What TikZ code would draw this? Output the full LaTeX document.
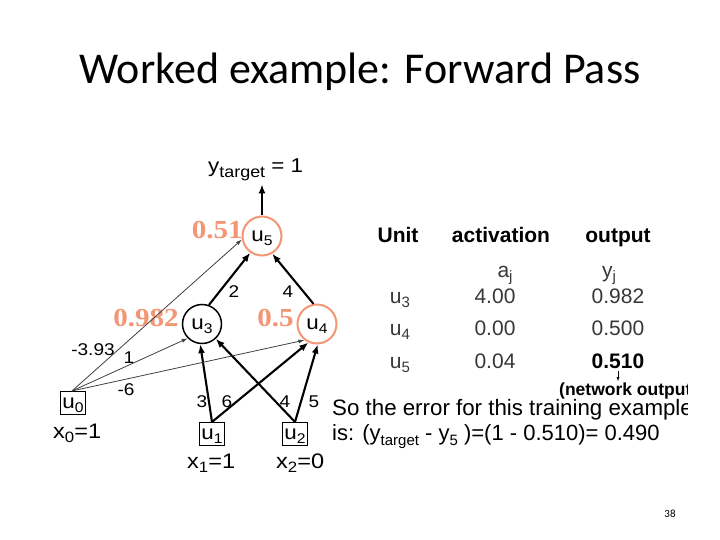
\documentclass[tikz,border=0pt]{standalone}
\usepackage{fontspec}
\setmainfont{Liberation Sans}
\newfontfamily\titlefont{Carlito}
\newfontfamily\numserif{Liberation Serif}
\usetikzlibrary{arrows.meta}
\definecolor{org}{RGB}{242,150,116}
\definecolor{txtgray}{RGB}{55,55,55}
\newcommand\lowsc[2][14]{\smash{\raisebox{-0.45ex}{\fontsize{#1}{#1}\selectfont #2}}}
\newcommand\hstretch[1]{\scalebox{1.12}[1]{#1}}
\begin{document}
\begin{tikzpicture}[x=1pt,y=-1pt,
  neuron/.style={circle,draw,line width=1.5pt,minimum size=39pt,inner sep=0pt,font=\fontsize{20}{20}\selectfont},
  hotneuron/.style={neuron,draw=org,line width=2pt},
  inbox/.style={draw,line width=1.1pt,minimum width=25pt,minimum height=23pt,inner sep=0pt,font=\fontsize{20}{20}\selectfont},
  vallab/.style={font=\fontsize{26}{26}\selectfont\numserif\bfseries,text=org,inner sep=0pt,anchor=base east},
  wlab/.style={font=\fontsize{17}{17}\selectfont,inner sep=0pt},
  xlab/.style={font=\fontsize{21}{21}\selectfont,inner sep=0pt,anchor=base west},
  thickarr/.style={line width=2.1pt,-{Latex[length=9pt,width=7pt]}},
  thinarr/.style={line width=0.8pt,draw=black!75,-{Latex[length=6pt,width=4pt]}},
  tab/.style={font=\fontsize{21}{21}\selectfont,text=txtgray,inner sep=0pt,anchor=base},
  tabhead/.style={font=\fontsize{21}{21}\selectfont\bfseries,inner sep=0pt,anchor=base}
]
\useasboundingbox (0,0) rectangle (720,540);
% title
\node[font=\fontsize{44}{44}\selectfont\titlefont,inner sep=0pt,anchor=base] (title) at (360,84) {Worked example: Forward Pass};
% network
\node[hotneuron] (u5) at (262,236) {\hstretch{u\lowsc{5}}};
\node[neuron] (u3) at (202,324) {\hstretch{u\lowsc{3}}};
\node[hotneuron] (u4) at (317,324) {\hstretch{u\lowsc{4}}};
\node[inbox] (u0) at (73,403) {\hstretch{u\lowsc{0}}};
\node[inbox] (u1) at (212,434) {\hstretch{u\lowsc{1}}};
\node[inbox] (u2) at (295,434) {\hstretch{u\lowsc{2}}};
\node[font=\fontsize{20}{20}\selectfont,inner sep=0pt,anchor=base west] (yt) at (208,173) {\hstretch{y\lowsc[16]{target} = 1}};
\node[xlab] (x0) at (53,438) {\hstretch{x\lowsc[15]{0}=1}};
\node[xlab] (x1) at (187,468) {\hstretch{x\lowsc[15]{1}=1}};
\node[xlab] (x2) at (276,468) {\hstretch{x\lowsc[15]{2}=0}};
% orange values
\node[vallab] (v5) at (243,238) {\hstretch{0.51}};
\node[vallab] (v3) at (179,326) {\hstretch{0.982}};
\node[vallab] (v4) at (294,326) {\hstretch{0.5}};
% connections
\draw[thickarr,shorten >=7pt] (u5.north) -- (u5.north |- yt.south);
\draw[thickarr] (u3.70) -- (u5.235);
\draw[thickarr] (u4.100) -- (u5.300);
\draw[thickarr] (u1.north) -- (u3.265);
\draw[thickarr] (u1.north) -- (u4.245);
\draw[thickarr] (u2.north) -- (u3.313);
\draw[thickarr] (u2.north) -- (u4.272);
\coordinate (u0t) at ([xshift=-1pt]u0.north);
\draw[thinarr] (u0t) -- (u5.190);
\draw[thinarr] (u0t) -- (u3.225);
\draw[thinarr] (u0t) -- (u4.232);
% weights
\node[wlab] (w53) at (234,292) {\hstretch{2}};
\node[wlab] (w54) at (288,292) {\hstretch{4}};
\node[wlab] (w50) at (93,350) {\hstretch{-3.93}};
\node[wlab] (w30) at (129,358) {\hstretch{1}};
\node[wlab] (w40) at (126,390) {\hstretch{-6}};
\node[wlab] (w31) at (202,402) {\hstretch{3}};
\node[wlab] (w41) at (227,402) {\hstretch{6}};
\node[wlab] (w32) at (285,402) {\hstretch{4}};
\node[wlab] (w42) at (314,402) {\hstretch{5}};
% table
\node[tabhead] (hunit) at (398,243) {Unit};
\node[tabhead] (hact) at (501,243) {activation};
\node[tabhead] (hout) at (618,243) {output};
\node[tab] (aj) at (505,277) {a\lowsc[15]{j}};
\node[tab] (yj) at (609,277) {y\lowsc[15]{j}};
\node[tab] (r3) at (400,303) {u\lowsc[15]{3}};
\node[tab] (r4) at (400,335) {u\lowsc[15]{4}};
\node[tab] (r5) at (400,368) {u\lowsc[15]{5}};
\node[tab] (a3) at (495,303) {4.00};
\node[tab] (a4) at (495,335) {0.00};
\node[tab] (a5) at (495,368) {0.04};
\node[tab] (o3) at (618,303) {0.982};
\node[tab] (o4) at (618,335) {0.500};
\node[tabhead] (o5) at (618,368) {0.510};
\begin{scope}
\clip (0,0) rectangle (687,540);
\node[font=\fontsize{17.5}{17.5}\selectfont\bfseries,inner sep=0pt,anchor=base west] (net) at (559,395) {(network output)};
\node[font=\fontsize{22.3}{22.3}\selectfont,inner sep=0pt,anchor=base west] (err1) at (332,415) {So the error for this training example};
\node[font=\fontsize{22}{22}\selectfont,inner sep=0pt,anchor=base west] (err2) at (332,440) {is: (y\lowsc[15]{target} - y\lowsc[15]{5} )=(1 - 0.510)= 0.490};
\end{scope}
\draw[line width=0.6pt,-{Latex[length=4pt,width=3pt]}] ([yshift=-3pt]o5.south) -- ([yshift=1pt]o5.south |- net.north);
% page number
\node[font=\fontsize{11}{11}\selectfont\titlefont,inner sep=0pt] (pg) at (670,514) {38};
\end{tikzpicture}
\end{document}
